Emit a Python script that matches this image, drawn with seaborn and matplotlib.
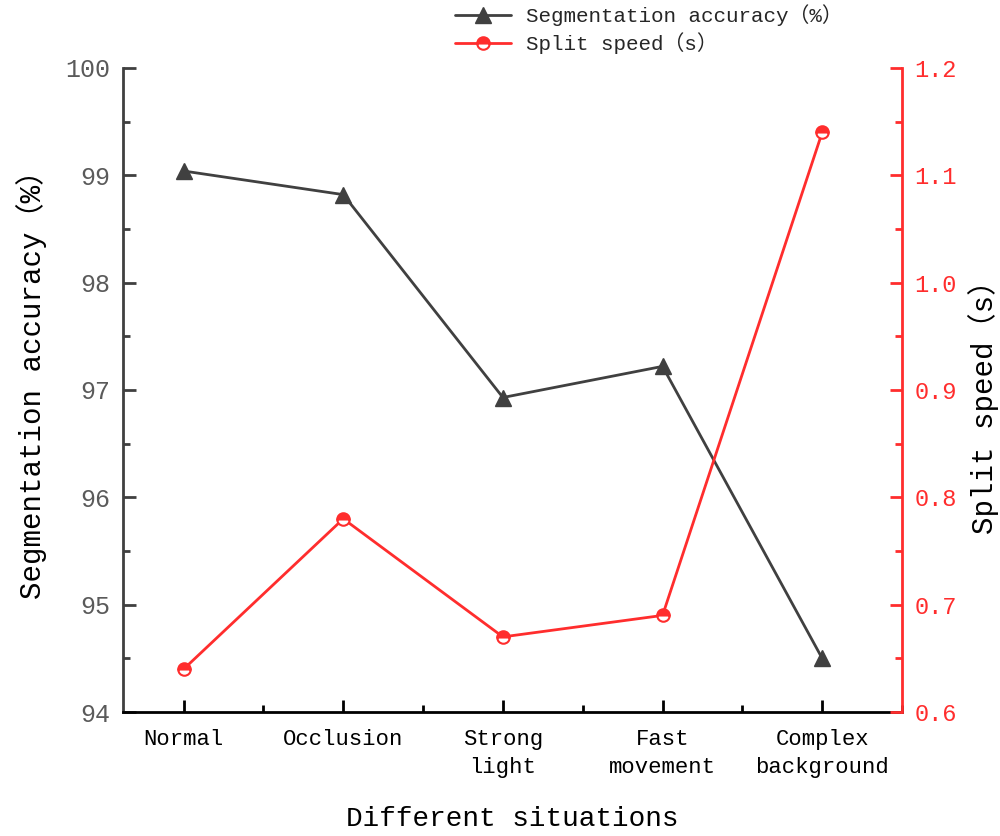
import matplotlib
matplotlib.use('Agg')
import matplotlib.pyplot as plt
import seaborn as sns
import pandas as pd
import numpy as np
from matplotlib.ticker import MultipleLocator, FormatStrFormatter

categories = ["Normal", "Occlusion", "Strong\nlight", "Fast\nmovement", "Complex\nbackground"]
accuracy = [99.04, 98.82, 96.93, 97.22, 94.50]
speed = [0.64, 0.78, 0.67, 0.69, 1.14]
acc_label = "Segmentation accuracy（%）"
speed_label = "Split speed（s）"
x_label = "Different situations"

sns.set_theme(style='ticks')
plt.rcParams['font.family'] = ['Liberation Mono', 'Noto Sans CJK SC', 'DejaVu Sans']

df = pd.DataFrame({'pos': np.arange(len(categories)), 'accuracy': accuracy, 'speed': speed})

GRAY = '#404040'
TICKGRAY = '#5a5a5a'
RED = '#ff2d2d'

fig = plt.figure(figsize=(10, 8.36), dpi=100)
ax = fig.add_axes([0.123, 0.1483, 0.779, 0.7704])
ax2 = ax.twinx()

sns.lineplot(data=df, x='pos', y='accuracy', ax=ax, color=GRAY, lw=2, marker='^',
             markersize=11, markeredgecolor=GRAY, markerfacecolor=GRAY,
             markeredgewidth=1, legend=False)
sns.lineplot(data=df, x='pos', y='speed', ax=ax2, color=RED, lw=2, marker='o',
             markersize=9, fillstyle='top', markerfacecolor=RED,
             markerfacecoloralt='white', markeredgecolor=RED,
             markeredgewidth=1.5, legend=False)

l1 = ax.get_lines()[0]
l2 = ax2.get_lines()[0]

ax.set_xlim(-0.38, 4.5)
ax.set_ylim(94, 100)
ax2.set_ylim(0.6, 1.2)

ax.set_xticks(df['pos'])
ax.set_xticklabels(categories, linespacing=1.45)
ax.xaxis.set_minor_locator(MultipleLocator(0.5))
ax.yaxis.set_major_locator(MultipleLocator(1))
ax.yaxis.set_minor_locator(MultipleLocator(0.5))
ax2.yaxis.set_major_locator(MultipleLocator(0.1))
ax2.yaxis.set_minor_locator(MultipleLocator(0.05))
ax2.yaxis.set_major_formatter(FormatStrFormatter('%.1f'))

for a in (ax, ax2):
    for s in a.spines.values():
        s.set_visible(False)
ax.spines['left'].set_visible(True)
ax.spines['left'].set_color(GRAY)
ax.spines['left'].set_linewidth(2)
ax.spines['bottom'].set_visible(True)
ax.spines['bottom'].set_color('black')
ax.spines['bottom'].set_linewidth(2)
ax2.spines['right'].set_visible(True)
ax2.spines['right'].set_color(RED)
ax2.spines['right'].set_linewidth(2)

ax.tick_params(axis='x', which='major', direction='in', length=9, width=2, color='black',
               labelsize=16, labelcolor='black', pad=12)
ax.tick_params(axis='x', which='minor', direction='in', length=5, width=2, color='black')
ax.tick_params(axis='y', which='major', direction='in', length=9, width=2, color=GRAY,
               labelsize=18, labelcolor=TICKGRAY, pad=9)
ax.tick_params(axis='y', which='minor', direction='in', length=5, width=2, color=GRAY)
ax2.tick_params(axis='y', which='major', direction='in', length=9, width=2, color=RED,
                labelsize=17, labelcolor=RED, pad=9)
ax2.tick_params(axis='y', which='minor', direction='in', length=5, width=2, color=RED)

ax.set_xlabel(x_label, fontsize=20, color='black')
ax.set_ylabel(acc_label, fontsize=21, color='black')
ax2.set_ylabel(speed_label, fontsize=21, color='black')
ax.xaxis.set_label_coords(0.5, -0.146)
ax.yaxis.set_label_coords(-0.097, 0.52)
ax2.yaxis.set_label_coords(1.085, 0.485)

fig.legend(handles=[l1, l2], labels=[acc_label, speed_label], loc='upper left',
           bbox_to_anchor=(0.455, 0.995), frameon=False, fontsize=15,
           handlelength=2.7, handletextpad=0.7, labelspacing=0.3,
           borderpad=0, borderaxespad=0)

fig.savefig('out.png', dpi=100)
